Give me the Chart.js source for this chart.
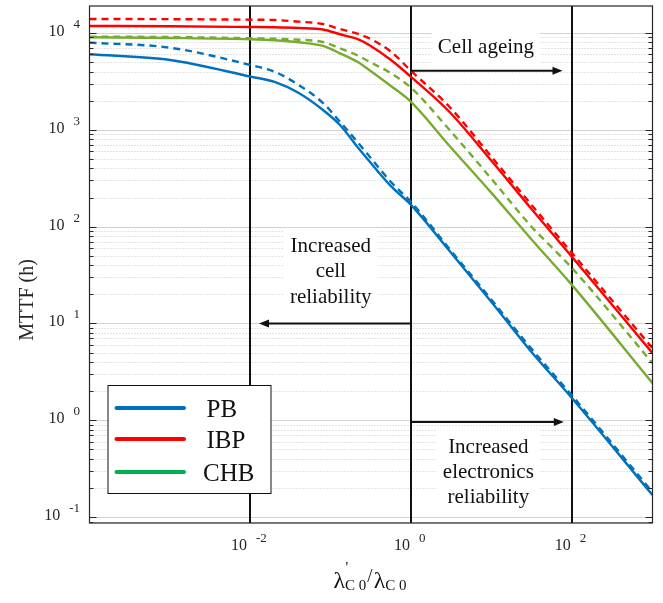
<!DOCTYPE html>
<html><head><meta charset="utf-8">
<script src="https://cdn.jsdelivr.net/npm/chart.js@4.4.0/dist/chart.umd.min.js"></script>
<style>html,body{margin:0;padding:0;background:#fff}</style>
</head><body>
<canvas id="c" width="663" height="603"></canvas>
<script>
// ---- data ----
const ratio     = [1e-4, 1e-3, 1e-2, 2e-2, 4e-2, 0.08, 0.13, 0.22, 0.3, 0.56, 1, 3, 10, 30, 100, 1000];
const pbSolid   = [6026, 5260, 3548, 3119, 2399, 1603, 1122, 649, 476, 262, 167, 56, 16.6, 5.3, 1.69, 0.169];
const pbDashed  = [7943, 7047, 4667, 3981, 2904, 1892, 1213, 731, 536, 289, 179, 58.7, 17.5, 5.70, 1.80, 0.181];
const ibpSolid  = [11810, 11730, 11530, 11460, 11260, 10860, 9700, 8610, 7520, 5260, 3508, 1527, 476, 159, 48.5, 4.94];
const ibpDashed = [13960, 13890, 13720, 13620, 13090, 12390, 10990, 9770, 8820, 6410, 4047, 1722, 524, 175, 53.3, 5.57];
const chbSolid  = [9030, 8880, 8610, 8410, 8020, 7350, 6170, 4980, 4150, 2834, 1936, 681, 222, 76.9, 24.9, 2.42];
const chbDashed = [9160, 9090, 8820, 8730, 8530, 8070, 6950, 5820, 5060, 3840, 2705, 995, 310, 104, 37.3, 3.90];
const seriesNames = ['PB', 'IBP', 'CHB'];
const markerLines = [1e-2, 1, 1e2];
const yTickExps = [-1, 0, 1, 2, 3, 4];
const xTickExps = [-2, 0, 2];
const noteCellAgeing = ['Cell ageing'];
const noteCell = ['Increased', 'cell', 'reliability'];
const noteElec = ['Increased', 'electronics', 'reliability'];
const yTitle = 'MTTF (h)';

const FONT = "'Liberation Serif','Times New Roman',serif";
const BLUE = '#0072BD', RED = '#FF0000', GREEN = '#77AC30', LEG_GREEN = '#00B050';

function ds(label, vals, color, dashed) {
  return {
    label, data: ratio.map((x, i) => ({x, y: vals[i]})),
    borderColor: color, backgroundColor: color, borderWidth: 2.4,
    borderDash: dashed ? [7, 5] : [], pointRadius: 0, fill: false,
    cubicInterpolationMode: 'monotone'
  };
}

function hline(ctx, x0, y0, x1, y1) { ctx.beginPath(); ctx.moveTo(x0, y0); ctx.lineTo(x1, y1); ctx.stroke(); }

function drawNote(ctx, lines, cx, baseY, lh) {
  ctx.font = `21px ${FONT}`;
  let w = 0; lines.forEach(t => w = Math.max(w, ctx.measureText(t).width));
  const top = baseY - 23, bottom = baseY + (lines.length - 1) * lh + 12;
  ctx.fillStyle = '#fff';
  ctx.fillRect(cx - w / 2 - 6, top, w + 12, bottom - top);
  ctx.fillStyle = '#111'; ctx.textAlign = 'center'; ctx.textBaseline = 'alphabetic';
  lines.forEach((t, i) => ctx.fillText(t, cx, baseY + i * lh));
}

function drawArrow(ctx, x0, x1, y) {
  ctx.strokeStyle = '#111'; ctx.fillStyle = '#111'; ctx.lineWidth = 2;
  const dir = Math.sign(x1 - x0);
  hline(ctx, x0, y, x1 - dir * 8, y);
  ctx.beginPath(); ctx.moveTo(x1, y); ctx.lineTo(x1 - dir * 10, y - 4); ctx.lineTo(x1 - dir * 10, y + 4); ctx.closePath(); ctx.fill();
}

function drawPow(ctx, e, anchorX, baseY, mode) {
  ctx.textAlign = 'left'; ctx.textBaseline = 'alphabetic'; ctx.fillStyle = '#262626';
  ctx.font = `16px ${FONT}`; const w10 = ctx.measureText('10').width;
  const es = e < 0 ? '-' + (-e) : String(e);
  ctx.font = `13px ${FONT}`; const we = ctx.measureText(es).width;
  const gap = 9, total = w10 + gap + we;
  const left = mode === 'right' ? anchorX - total : anchorX - total / 2;
  ctx.font = `16px ${FONT}`; ctx.fillText('10', left, baseY);
  ctx.font = `13px ${FONT}`; ctx.fillText(es, left + w10 + gap, baseY - 8);
}

const deco = {
  id: 'deco',
  beforeDatasetsDraw(chart) {
    const {ctx, chartArea: a, scales: {x, y}} = chart;
    ctx.save();
    ctx.lineWidth = 1;
    for (let e = -2; e <= 4; e++) {
      for (let m = 1; m <= 9; m++) {
        const v = m * Math.pow(10, e);
        if (v < y.min || v > y.max) continue;
        const py = Math.round(y.getPixelForValue(v)) + 0.5;
        if (m === 1) { ctx.setLineDash([]); ctx.strokeStyle = '#d2d2d2'; }
        else { ctx.setLineDash([1, 2]); ctx.strokeStyle = '#c8c8c8'; }
        hline(ctx, a.left, py, a.right, py);
      }
    }
    ctx.setLineDash([]);
    drawNote(ctx, noteCellAgeing, x.getPixelForValue(8.5), y.getPixelForValue(6270), 25.3);
    drawNote(ctx, noteCell, x.getPixelForValue(0.1), y.getPixelForValue(54.7), 25.3);
    drawNote(ctx, noteElec, x.getPixelForValue(9.1), y.getPixelForValue(0.458), 24.7);
    ctx.strokeStyle = '#111'; ctx.lineWidth = 2;
    markerLines.forEach(v => { const px = Math.round(x.getPixelForValue(v)); hline(ctx, px, a.top, px, a.bottom); });
    ctx.restore();
  },
  afterDatasetsDraw(chart) {
    const {ctx, chartArea: a, scales: {x, y}} = chart;
    ctx.save();
    const p1 = Math.round(x.getPixelForValue(1));
    drawArrow(ctx, p1, x.getPixelForValue(76), y.getPixelForValue(4074));
    drawArrow(ctx, p1, x.getPixelForValue(0.0128), y.getPixelForValue(10));
    drawArrow(ctx, p1, x.getPixelForValue(79), y.getPixelForValue(0.96));
    ctx.strokeStyle = '#262626'; ctx.lineWidth = 1.2;
    ctx.strokeRect(a.left, a.top, a.right - a.left, a.bottom - a.top);
    ctx.lineWidth = 1;
    for (let e = -2; e <= 4; e++) {
      for (let m = 1; m <= 9; m++) {
        const v = m * Math.pow(10, e);
        if (v < y.min || v > y.max) continue;
        const py = Math.round(y.getPixelForValue(v)) + 0.5;
        const len = m === 1 ? 7 : 4;
        hline(ctx, a.left, py, a.left + len, py);
        hline(ctx, a.right, py, a.right - len, py);
      }
    }
    yTickExps.forEach(e => drawPow(ctx, e, 80, y.getPixelForValue(Math.pow(10, e)) + 3, 'right'));
    xTickExps.forEach(e => drawPow(ctx, e, x.getPixelForValue(Math.pow(10, e)) - 1.5, 550, 'center'));
    // legend
    const lx = a.left + 18.5, ly = 385.5, lw = 163, lh = 108;
    ctx.fillStyle = '#fff'; ctx.fillRect(lx, ly, lw, lh);
    ctx.strokeStyle = '#111'; ctx.lineWidth = 1; ctx.strokeRect(lx, ly, lw, lh);
    const legColors = [BLUE, RED, LEG_GREEN];
    const rows = [408, 439, 472];
    ctx.lineCap = 'round'; ctx.lineWidth = 4;
    seriesNames.forEach((n, i) => {
      ctx.strokeStyle = legColors[i];
      hline(ctx, lx + 8.5, rows[i], lx + 76, rows[i]);
      ctx.fillStyle = '#111'; ctx.font = `25px ${FONT}`; ctx.textAlign = 'left'; ctx.textBaseline = 'alphabetic';
      ctx.fillText(n, i === 2 ? lx + 95 : lx + 98.5, rows[i] + 8.5);
    });
    ctx.lineCap = 'butt';
    // y title
    ctx.save();
    ctx.translate(28, 300); ctx.rotate(-Math.PI / 2);
    ctx.fillStyle = '#262626'; ctx.font = `20px ${FONT}`; ctx.textAlign = 'center'; ctx.textBaseline = 'middle';
    ctx.fillText(yTitle, 0, 0);
    ctx.restore();
    // x title: λ'_{C 0} / λ_{C 0}
    const parts = [
      {t: 'λ', f: 24, dy: 0},
      {t: 'C 0', f: 15, dy: 2},
      {t: '/', f: 19, dy: -6, pad: 1},
      {t: 'λ', f: 24, dy: 0},
      {t: 'C 0', f: 15, dy: 2}
    ];
    let tot = 0;
    parts.forEach(p => { ctx.font = `${p.f}px ${FONT}`; p.w = ctx.measureText(p.t).width + (p.pad || 0) * 2; tot += p.w; });
    let cx = 370 - tot / 2;
    ctx.fillStyle = '#111'; ctx.textAlign = 'left'; ctx.textBaseline = 'alphabetic';
    parts.forEach((p, i) => {
      ctx.font = `${p.f}px ${FONT}`;
      ctx.fillText(p.t, cx + (p.pad || 0), 588 + p.dy);
      if (i === 0) { ctx.font = `15px ${FONT}`; ctx.fillText("'", cx + p.w + 0.5, 572); }
      cx += p.w;
    });
    ctx.restore();
  }
};

new Chart(document.getElementById('c'), {
  type: 'line',
  data: {
    datasets: [
      ds('PB', pbSolid, BLUE, false),
      ds('PB (dashed)', pbDashed, BLUE, true),
      ds('IBP', ibpSolid, RED, false),
      ds('IBP (dashed)', ibpDashed, RED, true),
      ds('CHB', chbSolid, GREEN, false),
      ds('CHB (dashed)', chbDashed, GREEN, true)
    ]
  },
  options: {
    responsive: false, animation: false, devicePixelRatio: 1,
    layout: {padding: {top: 6, right: 10.5, left: 0, bottom: 0}},
    plugins: {legend: {display: false}, tooltip: {enabled: false}},
    scales: {
      x: {type: 'logarithmic', min: 1e-4, max: 1e3, bounds: 'data',
          grid: {display: false}, border: {display: false}, ticks: {display: false},
          afterFit(s) { s.height = 80; }},
      y: {type: 'logarithmic', min: 0.087, max: 19000, bounds: 'data',
          grid: {display: false}, border: {display: false}, ticks: {display: false},
          afterFit(s) { s.width = 89.5; }}
    }
  },
  plugins: [deco]
});
</script>
</body></html>
